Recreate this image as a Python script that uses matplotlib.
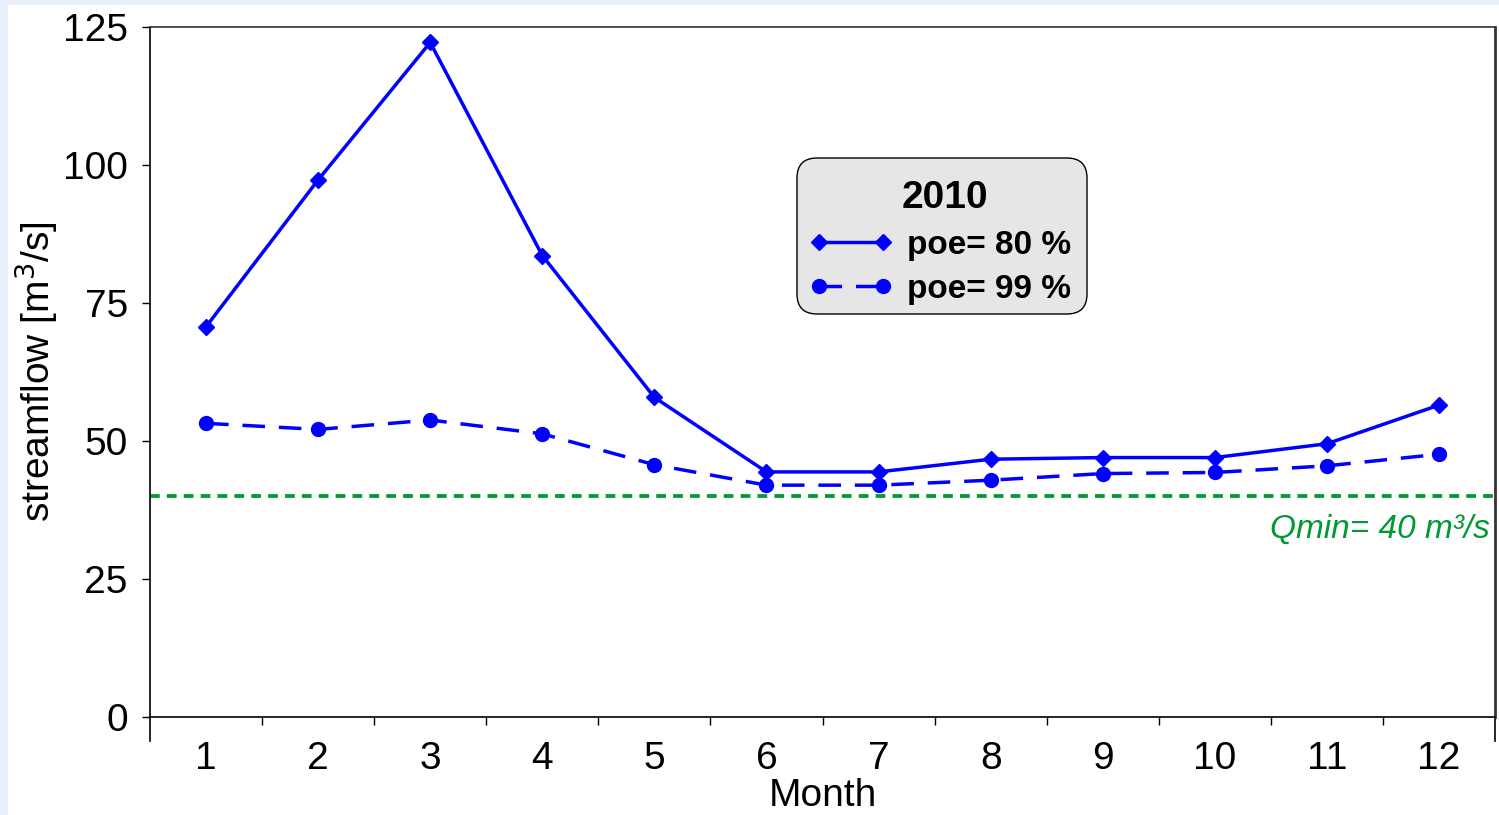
import matplotlib
matplotlib.use("Agg")
import matplotlib.pyplot as plt
from matplotlib.patches import Rectangle, FancyBboxPatch
from matplotlib.transforms import blended_transform_factory
from matplotlib.lines import Line2D
from matplotlib.legend_handler import HandlerLine2D
import numpy as np

plt.rcParams['font.family'] = ['Liberation Sans', 'DejaVu Sans']

months = [1, 2, 3, 4, 5, 6, 7, 8, 9, 10, 11, 12]
month_labels = [str(m) for m in months]
poe80 = [70.7, 97.3, 122.2, 83.6, 57.9, 44.4, 44.4, 46.7, 47.0, 47.0, 49.5, 56.5]
poe99 = [53.2, 52.1, 53.8, 51.3, 45.7, 42.0, 42.0, 42.9, 44.1, 44.3, 45.5, 47.6]
qmin = 40
yticks = [0, 25, 50, 75, 100, 125]

W, H = 1499, 815
fig = plt.figure(figsize=(W / 100, H / 100), dpi=100)
fig.patch.set_facecolor('#E8EEFA')
fig.patches.append(Rectangle((8 / W, 0), 1 - 8 / W, 1 - 5 / H, transform=fig.transFigure,
                             facecolor='white', edgecolor='none', zorder=-5))

AX_L, AX_R, AX_T, AX_B = 150, 1495, 27, 717
axw, axh = AX_R - AX_L, AX_B - AX_T
ax = fig.add_axes([AX_L / W, (H - AX_B) / H, axw / W, axh / H])
ax.set_zorder(2)
ax.set_facecolor('white')

blue = '#0000FF'
green = '#009933'

ax.axhline(qmin, color=green, lw=2.7, dashes=(2.6, 1.9), zorder=1)
ax.plot(months, poe80, color=blue, lw=2.5, marker='D', ms=8.5, label='poe= 80 %', zorder=3)
ax.plot(months, poe99, color=blue, lw=2.5, marker='o', ms=10, dashes=(6.5, 4),
        label='poe= 99 %', zorder=3)

ax.text(12.45, qmin - 6.0, 'Qmin= 40 m³/s', color=green, fontsize=24, fontstyle='italic',
        ha='right', va='center')

ax.set_xlim(0.5, 12.5)
ax.set_ylim(0, 125)
ax.set_yticks(yticks)
ax.set_xticks(months)
ax.set_xticklabels(month_labels)
ax.set_xticks(np.arange(1.5, 12, 1), minor=True)
ax.tick_params(axis='x', which='major', length=0, labelsize=28, pad=17)
ax.tick_params(axis='x', which='minor', length=6, width=1, direction='out')
ax.tick_params(axis='y', which='major', length=6, width=1, direction='out', labelsize=28, pad=10)

for s in ax.spines.values():
    s.set_color('black')
    s.set_linewidth(1.2)
ax.spines['top'].set_color('#333333')
ax.spines['right'].set_color('#333333')
ax.spines['right'].set_linewidth(2)

tr = blended_transform_factory(ax.transData, ax.transAxes)
for xe in (0.5, 12.5):
    ax.plot([xe, xe], [0, -24 / axh], color='black', lw=1.2, transform=tr, clip_on=False)

ax.set_ylabel('streamflow [m$^3$/s]', fontsize=28, labelpad=2)
ax.set_xlabel('Month', fontsize=28, labelpad=1)

# legend frame (rounded box)
bx0, bx1, by0, by1 = 797, 1087, 158, 314
frame = FancyBboxPatch(((bx0 - AX_L) / axw, (AX_B - by1) / axh), (bx1 - bx0) / axw, (by1 - by0) / axh,
                       boxstyle='round,pad=0,rounding_size=%f' % (20 / axw),
                       mutation_aspect=axw / axh, transform=ax.transAxes,
                       facecolor='#E6E6E6', edgecolor='black', lw=1.0, zorder=4, clip_on=False)
ax.add_patch(frame)

leg = ax.legend(loc='upper left', bbox_to_anchor=((bx0 + 4 - AX_L) / axw, (AX_B - 162) / axh),
                borderaxespad=0, title='2010', fontsize=24, numpoints=2, handlelength=1.9,
                frameon=False, borderpad=0.55, labelspacing=0.4, handletextpad=0.72,
                handler_map={Line2D: HandlerLine2D(marker_pad=0)})
leg.set_zorder(5)
leg.get_title().set_fontweight('bold')
leg.get_title().set_fontsize(28)
for t in leg.get_texts():
    t.set_fontweight('bold')

fig.savefig('out.png', dpi=100, facecolor=fig.get_facecolor())
